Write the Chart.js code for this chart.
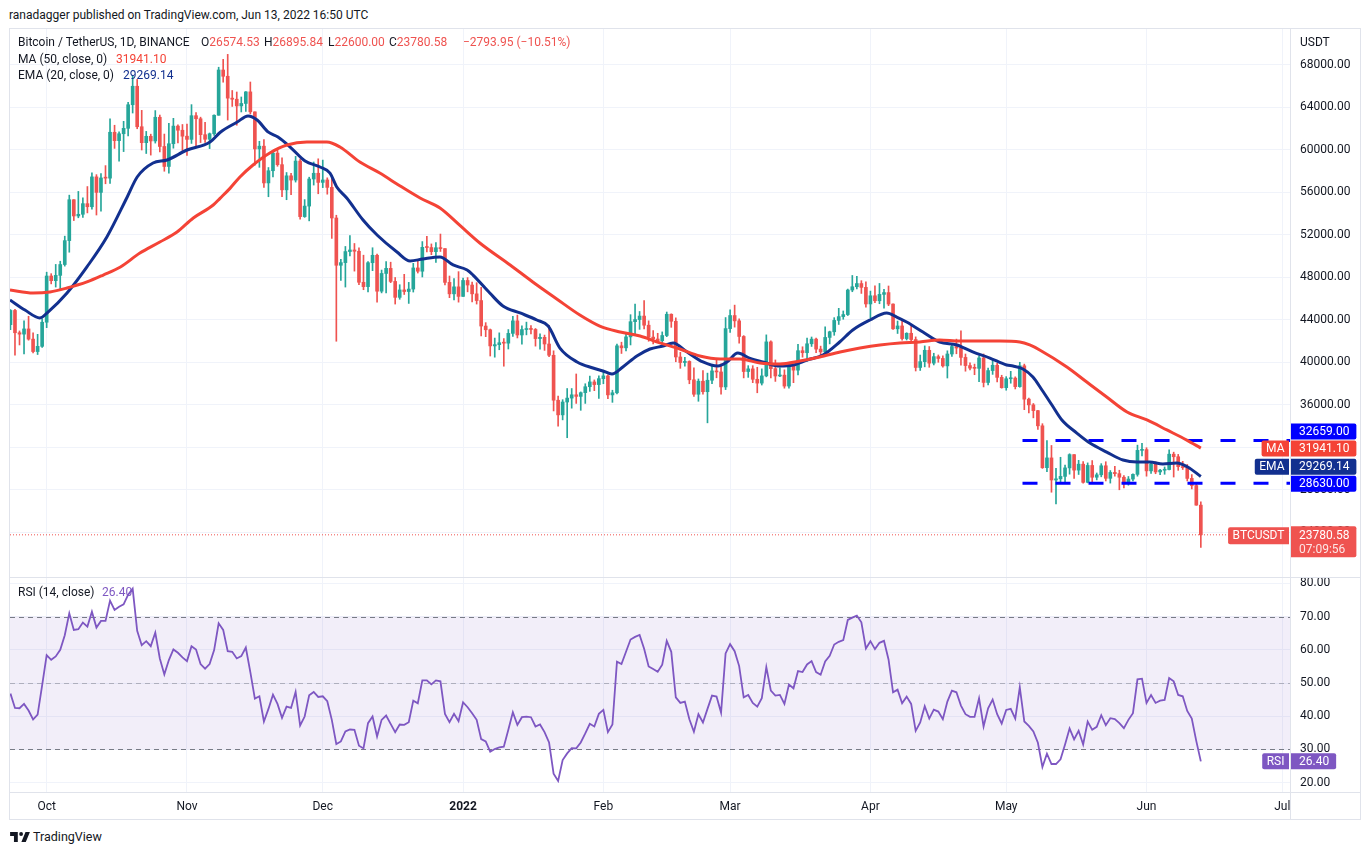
<!DOCTYPE html>
<html lang="en">
<head>
<meta charset="UTF-8" />
<title>Bitcoin / TetherUS, 1D, BINANCE</title>
<script src="https://cdn.jsdelivr.net/npm/chart.js"></script>
<style>
  body { margin: 0; background: #fff; font-family: Roboto, sans-serif; color: #131722; }
  #page { position: relative; width: 1370px; height: 855px; overflow: hidden; }
  canvas { position: absolute; }
  .t { position: absolute; font-size: 12px; line-height: 14px; white-space: nowrap; z-index: 3; }
  .red { color: #ef5350; }
  .line { position: absolute; background: #e0e3eb; z-index: 2; }
  #frame { position: absolute; left: 9px; top: 28px; width: 1352px; height: 792px; box-sizing: border-box; border: 1px solid #e0e3eb; z-index: 2; pointer-events: none; }
</style>
</head>
<body>
<div id="page">
  <div class="t" style="left:9px; top:8px; font-size:12px;">ranadagger published on TradingView.com, Jun 13, 2022 16:50 UTC</div>

  <canvas id="priceChart" width="1350" height="548" style="left:10px; top:29px;"></canvas>
  <canvas id="rsiChart" width="1350" height="241" style="left:10px; top:578px;"></canvas>

  <div id="frame"></div>
  <div class="line" style="left:10px; top:577px; width:1350px; height:1px;"></div>
  <div class="line" style="left:10px; top:792px; width:1350px; height:1px;"></div>
  <div class="line" style="left:1290px; top:29px; width:1px; height:790px;"></div>

  <div class="t" style="left:18px; top:35px;">Bitcoin / TetherUS, 1D, BINANCE</div>
  <div class="t" style="left:201px; top:35px;">O<span class="red">26574.53</span></div>
  <div class="t" style="left:264px; top:35px;">H<span class="red">26895.84</span></div>
  <div class="t" style="left:328px; top:35px;">L<span class="red">22600.00</span></div>
  <div class="t" style="left:389px; top:35px;">C<span class="red">23780.58</span></div>
  <div class="t red" style="left:463px; top:35px;">−2793.95 (−10.51%)</div>
  <div class="t" style="left:18px; top:52px;">MA (50, close, 0)</div>
  <div class="t" style="left:116px; top:52px; color:#f44336;">31941.10</div>
  <div class="t" style="left:18px; top:68px;">EMA (20, close, 0)</div>
  <div class="t" style="left:123px; top:68px; color:#12308f;">29269.14</div>
  <div class="t" style="left:1300px; top:35px;">USDT</div>

  <div class="t" style="left:18px; top:585px;">RSI (14, close)</div>
  <div class="t" style="left:102px; top:585px; color:#7e57c2;">26.40</div>

  <svg style="position:absolute; left:10px; top:831px;" width="20" height="11" viewBox="0 0 36 20">
    <path fill="#131722" d="M14 20H7V9H0V2h14v18zM28.5 20h-8l7.5-18h8z"/>
    <circle cx="20" cy="5.5" r="3.5" fill="#131722"/>
  </svg>
  <div class="t" style="left:33px; top:830px; font-size:12.5px;">TradingView</div>
</div>

<script>
// daily candles, 23 Sep 2021 .. 13 Jun 2022; x is counted in days from 1 Oct 2021
const firstDay = -8;

const opens = [
  43560, 44900, 42800, 42670, 43160, 42200, 41030, 41520,
  43790, 48140, 47700, 48200, 49220, 51470, 55320, 53790, 53950, 54950, 54660, 57470, 56010, 57370, 57350, 61670,
  60880, 61530, 62040, 64260, 66000, 62190, 60690, 61290, 60850, 63080, 60330, 58450, 60590, 62250, 61860,
  61300, 61000, 63230, 62940, 61440, 61010, 61530, 63270, 67530, 66940, 64880, 64780, 64150, 64380, 65470,
  63590, 60100, 60360, 56900, 58050, 59710, 58620, 56250, 57570, 57170, 58960, 53730, 54720, 57270, 57810,
  56950, 57180, 56480, 53600, 49150, 49400, 50440, 50590, 50470, 47550, 47140, 49390, 50090, 46710, 48380,
  48860, 47630, 46130, 46830, 46680, 46910, 48900, 48590, 50840, 50820, 50430, 50800, 50720, 47540, 46460, 47120,
  46220, 47720, 47290, 46460, 45830, 43430, 43080, 41560, 41680, 41860, 41820, 42740, 43920, 42590, 43100,
  43180, 43110, 42250, 42370, 41740, 40680, 36450, 35070, 36280, 36650, 36960, 36810, 37160, 37720, 38170, 37920,
  38480, 38740, 36950, 37150, 41570, 41380, 42410, 43840, 44040, 44370, 43510, 42390, 42210, 42050,
  42540, 44540, 43880, 40520, 40000, 40100, 38370, 37010, 38240, 37250, 38330, 39210, 39110, 37700,
  43190, 44420, 43920, 42450, 39150, 39400, 38420, 38060, 38740, 41940, 39420, 38730, 38810, 37780, 39670,
  39280, 41110, 40920, 41760, 42200, 41260, 41000, 42360, 42890, 43960, 44320, 44510, 46820, 47130, 47430, 47070,
  45510, 46280, 45810, 46410, 46580, 45500, 43170, 43440, 42250, 42750, 42160, 39530, 40080, 41150, 39940,
  40550, 40380, 39680, 40800, 41500, 41360, 40480, 39710, 39470, 39450, 40430, 38120, 39240, 39740, 38600,
  37630, 38470, 38530, 37730, 39690, 36550, 36010, 35470, 34040, 30100, 31020, 28940, 29050, 29280, 30080,
  31330, 29870, 30430, 28720, 30310, 29200, 29430, 30280, 29100, 29650, 29540, 29200, 28630, 29030, 29470, 31730,
  31800, 29800, 30450, 29700, 29860, 29920, 31370, 31130, 30200, 30110, 29090, 28420, 26574.53
];
const highs = [
  44980, 45000, 42970, 43920, 44350, 42790, 42650, 44130,
  48500, 48360, 49230, 49530, 51890, 55750, 55330, 56100, 55490, 56560, 57840, 57680, 57780, 58530, 62930,
  62330, 61720, 62700, 64490, 67000, 66640, 63730, 61750, 61490, 63710, 63290, 61500, 62500, 62980, 62360, 62400,
  62440, 64270, 63520, 63090, 62600, 61600, 63300, 67790, 68530, 69000, 65600, 65460, 64990, 65500, 66400,
  63590, 60820, 60990, 58350, 59850, 60050, 59270, 57880, 57800, 59400, 59150, 55330, 57440, 58870, 59170,
  59050, 57380, 57600, 53860, 49700, 50920, 51940, 51200, 50800, 50100, 49490, 50800, 50200, 48700, 49500,
  49440, 48000, 47320, 48300, 47540, 49330, 49570, 51380, 51870, 51160, 51280, 52090, 50720, 48140, 47900, 48550,
  47950, 47990, 47570, 47510, 47070, 43750, 43150, 42300, 42790, 42250, 43100, 44350, 44460, 43460, 43800,
  43480, 43200, 42690, 42580, 43500, 41100, 36840, 36500, 37550, 37550, 38920, 37230, 38000, 38720, 38360, 38740,
  39270, 38850, 37390, 41730, 41910, 42660, 44500, 45490, 44800, 45820, 43920, 43000, 42750, 42880,
  44750, 44580, 44200, 40960, 40480, 40160, 39500, 38450, 39250, 39000, 39730, 40300, 39870, 44230,
  44950, 45400, 44100, 42530, 39700, 39700, 39550, 39400, 42600, 42050, 40240, 39490, 39310, 39950, 39860,
  41720, 41480, 42300, 42400, 42300, 41540, 43360, 42950, 44220, 45100, 44850, 46910, 48190, 48100, 47700, 47600,
  46720, 47210, 47440, 46890, 47200, 45510, 43900, 43970, 42800, 43420, 42410, 40700, 41560, 41500, 40870,
  40710, 40620, 41100, 41760, 42200, 42980, 40800, 39980, 39850, 40620, 40800, 39470, 40370, 39930, 38800,
  38670, 39170, 38650, 40020, 39850, 36650, 36140, 35500, 34240, 32660, 32190, 30030, 31080, 30340, 31410,
  31330, 30790, 30670, 30550, 30770, 29600, 30480, 30660, 29830, 30220, 29860, 29360, 29270, 29530, 32220, 32400,
  31980, 30690, 30650, 29950, 30170, 31770, 31560, 31350, 30700, 30400, 29450, 28560, 26895.84
];
const lows = [
  43090, 40680, 41650, 40800, 42100, 40890, 40750, 41410,
  43280, 47400, 47100, 46890, 49070, 50380, 53360, 53620, 53660, 54080, 54420, 53880, 54250, 56820, 56850,
  60150, 58960, 59850, 61320, 63480, 62000, 60000, 59670, 59520, 60650, 59820, 58000, 57820, 60170, 60670, 59950,
  59500, 60620, 60380, 60700, 60720, 60130, 61380, 63270, 66380, 62820, 64100, 62330, 63580, 63630, 63400,
  58580, 58370, 56480, 55600, 57470, 58470, 55610, 55320, 55790, 56980, 53500, 53660, 53330, 56700, 55880,
  56460, 55840, 51680, 42000, 47730, 47100, 50040, 48600, 47320, 46850, 46650, 48640, 45670, 46550, 46550,
  47510, 45500, 45950, 46400, 45560, 46630, 48420, 48050, 50400, 50150, 49410, 50450, 47310, 46100, 45900, 45680,
  46210, 46650, 45700, 45500, 42500, 42430, 40610, 40500, 41200, 39650, 41270, 42450, 42310, 41730, 42600,
  42690, 41540, 41250, 41140, 40550, 35440, 34010, 34600, 32920, 35700, 36150, 35500, 36150, 37280, 37350, 36630,
  38000, 36590, 36250, 37050, 40850, 41100, 41650, 42670, 43120, 43170, 42000, 41750, 41860, 41570,
  42430, 43310, 40070, 39450, 39650, 38000, 36800, 36350, 37030, 34320, 38010, 38560, 37020, 37450,
  42830, 43330, 41830, 38550, 38600, 38100, 37150, 37880, 38650, 38540, 38220, 38660, 37580, 37590, 38100,
  38830, 40500, 40130, 41510, 40920, 40500, 40900, 41750, 42560, 43580, 44070, 44420, 46660, 46930, 46500, 45200,
  44200, 45620, 45530, 45120, 45350, 43120, 42730, 42110, 42120, 41870, 39200, 39250, 39590, 39550, 39770,
  40020, 39550, 38540, 40570, 40820, 39750, 39180, 39310, 38850, 38200, 37700, 37880, 38880, 38180, 37580,
  37390, 38050, 37510, 37670, 35560, 35260, 34790, 33710, 30030, 29730, 27790, 26700, 28690, 28610, 29490,
  29090, 29460, 28650, 28670, 28730, 28950, 29240, 28850, 28650, 29290, 28020, 28200, 28450, 28850, 29300, 31200,
  29300, 29570, 29530, 29450, 29480, 29900, 29220, 29850, 29930, 28850, 28100, 26560, 22600
];
const closes = [
  44900, 42800, 42670, 43160, 42200, 41030, 41520, 43790,
  48140, 47700, 48200, 49220, 51470, 55320, 53790, 53950, 54950, 54660, 57470, 56010, 57370, 57350, 61670,
  60880, 61530, 62040, 64260, 66000, 62190, 60690, 61290, 60850, 63080, 60330, 58450, 60590, 62250, 61860, 61300,
  61000, 63230, 62940, 61440, 61010, 61530, 63270, 67530, 66940, 64880, 64780, 64150, 64380, 65470, 63590,
  60100, 60360, 56900, 58050, 59710, 58620, 56250, 57570, 57170, 58960, 53730, 54720, 57270, 57810, 56950,
  57180, 56480, 53600, 49150, 49400, 50440, 50590, 50470, 47550, 47140, 49390, 50090, 46710, 48380, 48860,
  47630, 46130, 46830, 46680, 46910, 48900, 48590, 50840, 50820, 50430, 50800, 50720, 47540, 46460, 47120, 46220,
  47720, 47290, 46460, 45830, 43430, 43080, 41560, 41680, 41860, 41820, 42740, 43920, 42590, 43100, 43180,
  43110, 42250, 42370, 41740, 40680, 36450, 35070, 36280, 36650, 36960, 36810, 37160, 37720, 38170, 37920, 38480,
  38740, 36950, 37150, 41570, 41380, 42410, 43840, 44040, 44370, 43510, 42390, 42210, 42050, 42540,
  44540, 43880, 40520, 40000, 40100, 38370, 37010, 38240, 37250, 38330, 39210, 39110, 37700, 43190,
  44420, 43920, 42450, 39150, 39400, 38420, 38060, 38740, 41940, 39420, 38730, 38810, 37780, 39670, 39280,
  41110, 40920, 41760, 42200, 41260, 41000, 42360, 42890, 43960, 44320, 44510, 46820, 47130, 47430, 47070, 45510,
  46280, 45810, 46410, 46580, 45500, 43170, 43440, 42250, 42750, 42160, 39530, 40080, 41150, 39940, 40550,
  40380, 39680, 40800, 41500, 41360, 40480, 39710, 39470, 39450, 40430, 38120, 39240, 39740, 38600, 37630,
  38470, 38530, 37730, 39690, 36550, 36010, 35470, 34040, 30100, 31020, 28940, 29050, 29280, 30080, 31330,
  29870, 30430, 28720, 30310, 29200, 29430, 30280, 29100, 29650, 29540, 29200, 28630, 29030, 29470, 31730, 31800,
  29800, 30450, 29700, 29860, 29920, 31370, 31130, 30200, 30110, 29090, 28420, 26574.53, 23780.58
];

// RSI (14, close), one value per candle
const rsiValues = [
  46.8, 42.5, 42.4, 43.7, 41.7, 39.0, 40.5, 49.3,
  58.4, 57.0, 58.0, 60.0, 64.4, 71.0, 66.0, 66.2, 68.2, 67.0, 71.5, 66.7, 68.7, 68.7, 74.8, 72.0,
  73.0, 73.7, 76.6, 78.4, 65.7, 61.4, 62.6, 61.1, 65.2, 57.4, 52.6, 56.9, 60.1, 59.1, 57.7,
  56.6, 61.1, 60.1, 55.7, 54.3, 55.7, 59.9, 68.0, 66.0, 59.6, 59.4, 57.4, 58.1, 60.7, 53.3,
  45.3, 46.0, 38.4, 42.2, 46.5, 43.7, 39.5, 42.9, 42.5, 47.3, 37.2, 39.9, 46.3, 47.3, 45.8,
  46.0, 44.5, 38.9, 31.6, 32.4, 35.4, 36.0, 35.9, 31.1, 30.3, 37.9, 39.9, 33.9, 38.9, 40.2, 37.7,
  35.2, 37.5, 37.4, 38.2, 44.7, 43.9, 50.8, 50.8, 49.6, 50.8, 50.5, 40.7, 38.2, 40.7, 38.5,
  44.2, 42.7, 40.9, 38.9, 33.1, 32.4, 29.3, 30.1, 30.6, 30.8, 35.9, 41.2, 37.4, 39.7, 39.9, 39.7,
  36.9, 37.5, 35.2, 32.1, 22.7, 20.5, 26.8, 28.8, 30.4, 30.3, 32.1, 34.8, 37.7, 36.9, 40.7,
  41.9, 35.2, 37.5, 56.4, 55.7, 59.4, 63.1, 63.9, 64.5, 60.3, 55.0, 54.2, 53.4, 55.5,
  62.7, 59.4, 45.7, 44.0, 44.4, 39.1, 35.3, 40.6, 38.1, 42.2, 46.2, 45.9, 41.1, 58.9,
  61.7, 59.6, 55.1, 45.7, 46.4, 44.0, 42.9, 45.4, 54.8, 47.7, 46.2, 46.4, 43.7, 49.5, 48.4, 53.6,
  53.3, 55.6, 56.6, 53.3, 52.5, 56.5, 58.2, 61.6, 62.4, 62.9, 69.0, 69.7, 70.3, 68.3, 60.4,
  62.6, 60.2, 62.1, 62.7, 57.1, 47.2, 48.0, 43.9, 45.9, 43.7, 35.6, 38.1, 43.0, 39.3, 42.0,
  41.4, 39.1, 44.4, 47.7, 47.2, 43.2, 40.6, 39.8, 39.8, 45.4, 36.9, 42.4, 45.0, 40.6, 37.8,
  41.9, 42.2, 39.3, 48.7, 38.4, 37.1, 35.4, 32.0, 24.7, 28.7, 25.6, 25.6, 27.0, 31.5, 36.3, 33.0,
  35.6, 31.5, 38.4, 35.9, 36.8, 40.3, 37.3, 39.4, 39.1, 37.9, 36.4, 38.9, 40.9, 51.1, 51.3,
  44.0, 46.4, 44.0, 44.7, 44.9, 51.5, 50.5, 46.4, 46.0, 41.6, 39.3, 32.5, 26.4
];

// MA (50) and EMA (20) at these days
const maDays = [-8.1, -3, 0.75, 4.5, 8.9, 12.5, 16.3, 20.6, 25, 28.8, 32.4, 36.8, 38.3, 40.5, 42.7, 45.6,
  49.3, 53.1, 57.5, 61.9, 64.8, 69.2, 73.6, 78.1, 82.5, 86.9, 91.3, 95.7, 102.4, 107.4, 112.7, 117.8,
  122.2, 126.7, 131.1, 135.5, 139.9, 144.3, 148.8, 153.2, 157.6, 162, 166.4, 170.8, 175.3, 179.7, 184.1,
  188.5, 192.9, 197.3, 201.8, 206.2, 210.6, 215, 217.2, 219.4, 225.4, 229.8, 234.2, 238.7, 243.1, 247.5,
  251.9, 255];
const maValues = [46820, 46540, 46640, 47010, 47580, 48230, 48990, 50300, 51340, 52280, 53600, 54820, 55450,
  56390, 57460, 58590, 59720, 60470, 60750, 60750, 60280, 58870, 57830, 56610, 55480, 54540, 52900, 51250,
  49180, 47580, 45980, 44470, 43430, 42870, 42490, 41840, 41270, 40610, 40330, 40330, 39950, 39860, 40140,
  40520, 40990, 41360, 41650, 41840, 41930, 42120, 42020, 42020, 42020, 41930, 41650, 41180, 39580, 38160,
  36750, 35340, 34590, 33650, 32700, 31941.10];
const emaDays = [-8.1, -4.8, -1.5, 0.3, 4.5, 8.9, 13.3, 17.8, 20, 23.5, 26.6, 31, 36.1, 38.3, 42.1, 44.5,
  46.5, 48.9, 51.1, 53.8, 57.1, 60.4, 62.6, 64.1, 66.3, 69.9, 73, 77.4, 80.3, 83.1, 86.9, 89.8, 92.9, 94.2,
  97.9, 100.8, 104.6, 108.3, 110.8, 113.4, 117.2, 120.7, 122.9, 124.9, 127.3, 130.4, 133.3, 136.2, 138.4,
  141.5, 145, 148.3, 150.3, 152.7, 155.4, 158.2, 162, 164.9, 168, 171.5, 175.2, 178.1, 181.9, 185.6, 187.8,
  190, 193.6, 197.3, 201.1, 204.6, 208.4, 212.1, 213.5, 215.7, 217.9, 219.9, 222.1, 224.3, 227.6, 230.5,
  234.2, 237.8, 240.9, 243.7, 246.6, 249.7, 252.1, 255];
const emaValues = [45880, 44940, 44190, 44750, 46540, 49000, 51810, 55580, 57460, 58780, 59060, 60000, 60750,
  61650, 62630, 63200, 62820, 61700, 61220, 60280, 58960, 58400, 57830, 56520, 55480, 53410, 52000, 50400,
  49550, 49740, 49930, 49180, 48700, 48230, 46540, 45320, 44660, 44000, 43430, 41360, 40050, 39480, 39200,
  38920, 39580, 40610, 41270, 41550, 41840, 40990, 40050, 39670, 40050, 40890, 40380, 40050, 39670, 39760,
  40230, 40700, 41930, 43060, 44000, 44660, 44280, 43810, 42870, 41930, 41650, 40990, 40420, 39760, 39670,
  39390, 38630, 37410, 36000, 34590, 33360, 32420, 31570, 30820, 30630, 30630, 30450, 30540, 30160, 29269.14];

// horizontal levels drawn on the chart and where they start
const levels = [32659, 28630];
const levelFrom = 215.6;

const monthTicks = [0, 31, 61, 92, 123, 151, 182, 212, 243, 273];
const monthNames = ['Oct', 'Nov', 'Dec', '2022', 'Feb', 'Mar', 'Apr', 'May', 'Jun', 'Jul'];
const priceTicks = [24000, 28000, 32000, 36000, 40000, 44000, 48000, 52000, 56000, 60000, 64000, 68000];
const rsiTicks = [20, 30, 40, 50, 60, 70, 80];

const xMin = -8.1, xMax = 274.7;
const up = '#26a69a', down = '#ef5350';
const maColor = '#f44336', emaColor = '#12308f', levelColor = '#0000ff', rsiColor = '#7e57c2';
const gridColor = '#f0f3fa';

const days = closes.map((_, i) => firstDay + i);
const candleColors = closes.map((c, i) => (c >= opens[i] ? up : down));
const lastClose = closes[closes.length - 1];

Chart.defaults.font.family = 'Roboto, sans-serif';
Chart.defaults.font.size = 12;
Chart.defaults.color = '#131722';
Chart.defaults.animation = false;

function xScale(showLabels) {
  return {
    type: 'linear', min: xMin, max: xMax, offset: false,
    afterBuildTicks: ax => { ax.ticks = monthTicks.map(v => ({ value: v })); },
    afterFit: ax => { ax.height = showLabels ? 27 : 0; ax.paddingLeft = 0; ax.paddingRight = 0; },
    grid: { color: gridColor, drawTicks: false, offset: false },
    border: { display: false },
    ticks: {
      display: showLabels, padding: 8, autoSkip: false, maxRotation: 0,
      font: c => ({ size: 12, weight: c.tick && c.tick.value === 92 ? 'bold' : 'normal' }),
      callback: (v, i) => monthNames[i]
    }
  };
}

function yScale(min, max, tickList) {
  return {
    position: 'right', min, max,
    afterBuildTicks: ax => { ax.ticks = tickList.map(v => ({ value: v })); },
    afterFit: ax => { ax.width = 70; ax.paddingTop = 0; ax.paddingBottom = 0; },
    grid: { color: gridColor, drawTicks: false },
    border: { display: false },
    ticks: { padding: 10, callback: v => v.toFixed(2) }
  };
}

function box(ctx, x, y, w, h, color, radii) {
  ctx.fillStyle = color;
  ctx.beginPath();
  if (ctx.roundRect) ctx.roundRect(x, y, w, h, radii); else ctx.rect(x, y, w, h);
  ctx.fill();
}

// value tags on the price axis, pushed apart like TradingView does
const priceTags = {
  id: 'priceTags',
  afterDraw(chart) {
    const { ctx, chartArea, scales: { y } } = chart;
    const r = chartArea.right;
    ctx.save();
    ctx.font = '12px Roboto, sans-serif';
    ctx.textBaseline = 'middle';
    const tags = [
      { v: levels[0], text: levels[0].toFixed(2), color: levelColor },
      { v: maValues[maValues.length - 1], text: maValues[maValues.length - 1].toFixed(2), color: maColor, title: 'MA' },
      { v: emaValues[emaValues.length - 1], text: emaValues[emaValues.length - 1].toFixed(2), color: emaColor, title: 'EMA' },
      { v: levels[1], text: levels[1].toFixed(2), color: levelColor }
    ].map(t => ({ ...t, py: y.getPixelForValue(t.v) }));
    tags.sort((a, b) => b.py - a.py);
    let prev = Infinity;
    tags.forEach(t => {
      const c = Math.min(t.py + 0.5, prev - 17);
      prev = c;
      const tw = ctx.measureText(t.text).width;
      box(ctx, r, c - 8, tw + 16, 16, t.color, [0, 2, 2, 0]);
      ctx.fillStyle = '#fff';
      ctx.textAlign = 'left';
      ctx.fillText(t.text, r + 9, c + 0.5);
      if (t.title) {
        const lw = ctx.measureText(t.title).width + 9;
        box(ctx, r - 1 - lw, c - 8, lw, 16, t.color, [2, 0, 0, 2]);
        ctx.fillStyle = '#fff';
        ctx.textAlign = 'center';
        ctx.fillText(t.title, r - 1 - lw / 2, c + 0.5);
      }
    });
    // last price
    const py = y.getPixelForValue(lastClose);
    const top = py - 8.5;
    const txt = lastClose.toFixed(2);
    const tw = ctx.measureText(txt).width;
    box(ctx, r, top, tw + 16, 31, down, [0, 2, 2, 0]);
    ctx.fillStyle = '#fff';
    ctx.textAlign = 'left';
    ctx.fillText(txt, r + 9, top + 9.5);
    ctx.fillStyle = 'rgba(255,255,255,0.85)';
    ctx.fillText('07:09:56', r + 9, top + 24);
    const lw = ctx.measureText('BTCUSDT').width + 9;
    box(ctx, r - 1 - lw, top + 1, lw, 17, down, [2, 0, 0, 2]);
    ctx.fillStyle = '#fff';
    ctx.textAlign = 'center';
    ctx.fillText('BTCUSDT', r - 1 - lw / 2, top + 9.5);
    ctx.restore();
  }
};

new Chart(document.getElementById('priceChart'), {
  type: 'bar',
  data: {
    datasets: [
      { type: 'line', label: 'MA (50)', data: maDays.map((d, i) => ({ x: d, y: maValues[i] })),
        borderColor: maColor, borderWidth: 3, pointRadius: 0, cubicInterpolationMode: 'monotone', order: 0 },
      { type: 'line', label: 'EMA (20)', data: emaDays.map((d, i) => ({ x: d, y: emaValues[i] })),
        borderColor: emaColor, borderWidth: 3, pointRadius: 0, cubicInterpolationMode: 'monotone', order: 1 },
      ...levels.map(v => ({
        type: 'line', label: 'level ' + v, data: [{ x: levelFrom, y: v }, { x: xMax, y: v }],
        borderColor: levelColor, borderWidth: 3, borderDash: [15, 18], pointRadius: 0, order: 2
      })),
      { type: 'line', label: 'last', data: [{ x: xMin, y: lastClose }, { x: xMax, y: lastClose }],
        borderColor: down, borderWidth: 1, borderDash: [1, 2], pointRadius: 0, order: 3 },
      { type: 'bar', label: 'body', data: days.map((d, i) => ({ x: d, y: [opens[i], closes[i]] })),
        backgroundColor: candleColors, barThickness: 3, minBarLength: 1, grouped: false, order: 4 },
      { type: 'bar', label: 'wick', data: days.map((d, i) => ({ x: d, y: [lows[i], highs[i]] })),
        backgroundColor: candleColors, barThickness: 1, grouped: false, order: 5 }
    ]
  },
  options: {
    responsive: false,
    events: [],
    layout: { padding: 0 },
    plugins: { legend: { display: false }, tooltip: { enabled: false } },
    scales: {
      x: xScale(false),
      y: yScale(19811, 71388, priceTicks)
    }
  },
  plugins: [priceTags]
});

const rsiDecor = {
  id: 'rsiDecor',
  beforeDatasetsDraw(chart) {
    const { ctx, chartArea: a, scales: { y } } = chart;
    const y70 = y.getPixelForValue(70), y50 = y.getPixelForValue(50), y30 = y.getPixelForValue(30);
    ctx.save();
    ctx.fillStyle = 'rgba(126,87,194,0.1)';
    ctx.fillRect(a.left, y70, a.right - a.left, y30 - y70);
    ctx.lineWidth = 1;
    ctx.setLineDash([5, 4]);
    [[y70, '#787b86'], [y50, 'rgba(120,123,134,0.5)'], [y30, '#787b86']].forEach(([py, c]) => {
      ctx.strokeStyle = c;
      ctx.beginPath();
      ctx.moveTo(a.left, Math.round(py) + 0.5);
      ctx.lineTo(a.right, Math.round(py) + 0.5);
      ctx.stroke();
    });
    ctx.restore();
  },
  afterDraw(chart) {
    const { ctx, chartArea: a, scales: { y } } = chart;
    const last = rsiValues[rsiValues.length - 1];
    const c = y.getPixelForValue(last);
    ctx.save();
    ctx.font = '12px Roboto, sans-serif';
    ctx.textBaseline = 'middle';
    const txt = last.toFixed(2);
    const tw = ctx.measureText(txt).width;
    box(ctx, a.right, c - 8, tw + 16, 16, rsiColor, [0, 2, 2, 0]);
    ctx.fillStyle = '#fff';
    ctx.textAlign = 'left';
    ctx.fillText(txt, a.right + 9, c + 0.5);
    const lw = ctx.measureText('RSI').width + 9;
    box(ctx, a.right - 1 - lw, c - 8, lw, 16, rsiColor, [2, 0, 0, 2]);
    ctx.fillStyle = '#fff';
    ctx.textAlign = 'center';
    ctx.fillText('RSI', a.right - 1 - lw / 2, c + 0.5);
    ctx.restore();
  }
};

new Chart(document.getElementById('rsiChart'), {
  type: 'line',
  data: {
    datasets: [
      { label: 'RSI (14)', data: days.map((d, i) => ({ x: d, y: rsiValues[i] })),
        borderColor: rsiColor, borderWidth: 1.8, pointRadius: 0, tension: 0 }
    ]
  },
  options: {
    responsive: false,
    events: [],
    layout: { padding: 0 },
    plugins: { legend: { display: false }, tooltip: { enabled: false } },
    scales: {
      x: xScale(true),
      y: yScale(17.17, 81.63, rsiTicks)
    }
  },
  plugins: [rsiDecor]
});
</script>
</body>
</html>
